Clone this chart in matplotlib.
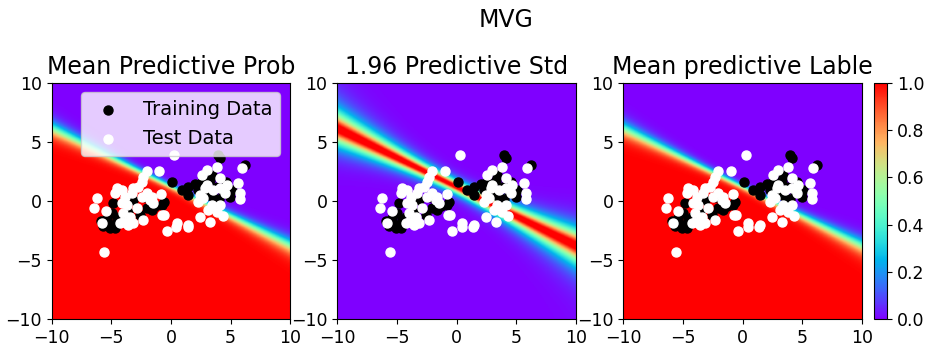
import numpy as np
import matplotlib.pyplot as plt

# points
train_x = [0.12, 0.91, -4.82, -4.96, -5.9, -5.66, -5.1, -4.68, -4.27, -0.76, -0.62, -2.03, -1.62,
           -3.15, -4.55, -4.96, -2.6, -3.6, -1.3, -5.4, -2.2,
           3.99, 4.13, 6.22, 1.47, 2.03, 1.47, 3.29, 3.84, 4.41, 4.97, 5.1, 3.56, 2.59, 3.42,
           2.3, 4.6, 3.0, 4.0]
train_y = [1.6, 0.9, -0.2, -1.0, -1.7, -2.11, -2.31, -2.31, -1.32, -0.34, -0.06, -0.62, -0.76,
           0.08, -1.6, -2.03, -1.2, -0.9, -0.4, -1.4, 0.3,
           3.89, 3.6, 3.04, 1.21, 1.41, 0.51, 1.78, 1.21, 0.79, 0.37, 0.93, 0.37, 1.63, 2.2,
           0.9, 1.6, 0.5, 0.2]

test_x = [0.29, -0.99, -2.03, -2.31, -2.45, -2.73, -4.55, -4.13, -4.68, -0.82, -6.22, -6.42,
          -5.44, -5.8, -5.6, -0.74, -0.55, -2.31, -0.35, 0.44, 0.49, -1.75, -1.48, -2.87,
          -3.71, -3.99, -3.42, -3.99, -3.57, -3.15, -4.27, -3.29, -3.15, -2.45, -2.03, -1.62,
          -3.85, -4.13,
          3.84, 5.94, 3.0, 2.59, 4.13, 4.68, 5.66, 5.8, 5.8, 3.0, 2.87, 3.56, 4.13, 4.55,
          2.45, 2.31, 2.73, 3.42, 4.13, 3.84, 3.15, 4.35, 3.29, 2.45, 1.47, 1.4]
test_y = [3.93, 2.54, 2.54, 2.06, 1.63, 1.21, 1.07, 0.93, 0.65, 0.56, 0.22, -0.62,
          -0.85, -1.83, -4.29, -1.18, -1.18, -1.63, -2.54, -2.22, -1.89, 0.08, -0.2, -0.62,
          -0.34, -1.04, -1.32, -1.74, -2.03, -1.88, -1.83, 0.65, 1.07, 0.37, 0.65, 0.37,
          0.37, -0.2,
          2.85, 2.76, 2.62, 2.2, 1.92, 1.35, 1.5, 0.65, 0.17, 1.35, 1.07, 0.93, 1.07, 0.65,
          0.51, -0.06, 0.23, -0.34, -0.34, -0.9, -0.76, -1.27, -1.75, -1.33, -2.03, -2.2]

# decision boundary: y = intercept + slope * x
boundary_intercept = 1.15
boundary_slope = -0.495
band_width = 0.15    # logistic scale near the data
band_growth = 5.0    # distance along the boundary where the scale has grown by sqrt(2)
halo_level = 0.1     # faint std far out along the boundary
halo_width = 0.35
halo_growth = 6.0

titles = ["Mean Predictive Prob", "1.96 Predictive Std", "Mean predictive Lable"]
ticks = [-10, -5, 0, 5, 10]
cbar_ticks = [0.0, 0.2, 0.4, 0.6, 0.8, 1.0]

# model maps on a grid
g = np.linspace(-10, 10, 301)
X, Y = np.meshgrid(g, g)
nrm = np.sqrt(1 + boundary_slope ** 2)
dn = (Y - (boundary_intercept + boundary_slope * X)) / nrm
t = (X + boundary_slope * (Y - boundary_intercept)) / nrm
w = band_width * np.sqrt(1 + (t / band_growth) ** 2)
prob = 1 / (1 + np.exp(np.clip(dn / w, -50, 50)))
halo = halo_level * np.exp(-np.abs(dn) / (halo_width * (1 + (t / halo_growth) ** 2)))
std = np.clip(1.96 * np.sqrt(prob * (1 - prob)) + halo, 0, 1)
maps = [prob, std, prob]

fig = plt.figure(figsize=(9.25, 3.47), dpi=100)
lefts = [51.7 / 925, 337.3 / 925, 623.3 / 925]
bottom, width, height = 27.7 / 347, 238.4 / 925, 236.6 / 347

for i in range(3):
    ax = fig.add_axes([lefts[i], bottom, width, height])
    im = ax.imshow(maps[i], extent=[-10, 10, -10, 10], origin="lower", cmap="rainbow",
                   vmin=0, vmax=1, aspect="auto", interpolation="bilinear")
    ax.scatter(train_x, train_y, c="black", s=42, label="Training Data")
    ax.scatter(test_x, test_y, c="white", s=42, label="Test Data")
    ax.set_xlim(-10, 10)
    ax.set_ylim(-10, 10)
    ax.set_xticks(ticks)
    ax.set_yticks(ticks)
    ax.tick_params(labelsize=12.5)
    ax.set_title(titles[i], fontsize=17)
    if i == 0:
        ax.legend(loc="upper right", fontsize=14)

cax = fig.add_axes([873.5 / 925, bottom, 13.5 / 925, height])
cb = fig.colorbar(im, cax=cax, ticks=cbar_ticks)
cb.ax.tick_params(labelsize=12.5)

fig.suptitle("MVG", x=506 / 925, y=0.978, fontsize=17)

fig.savefig("out.png", dpi=100)
